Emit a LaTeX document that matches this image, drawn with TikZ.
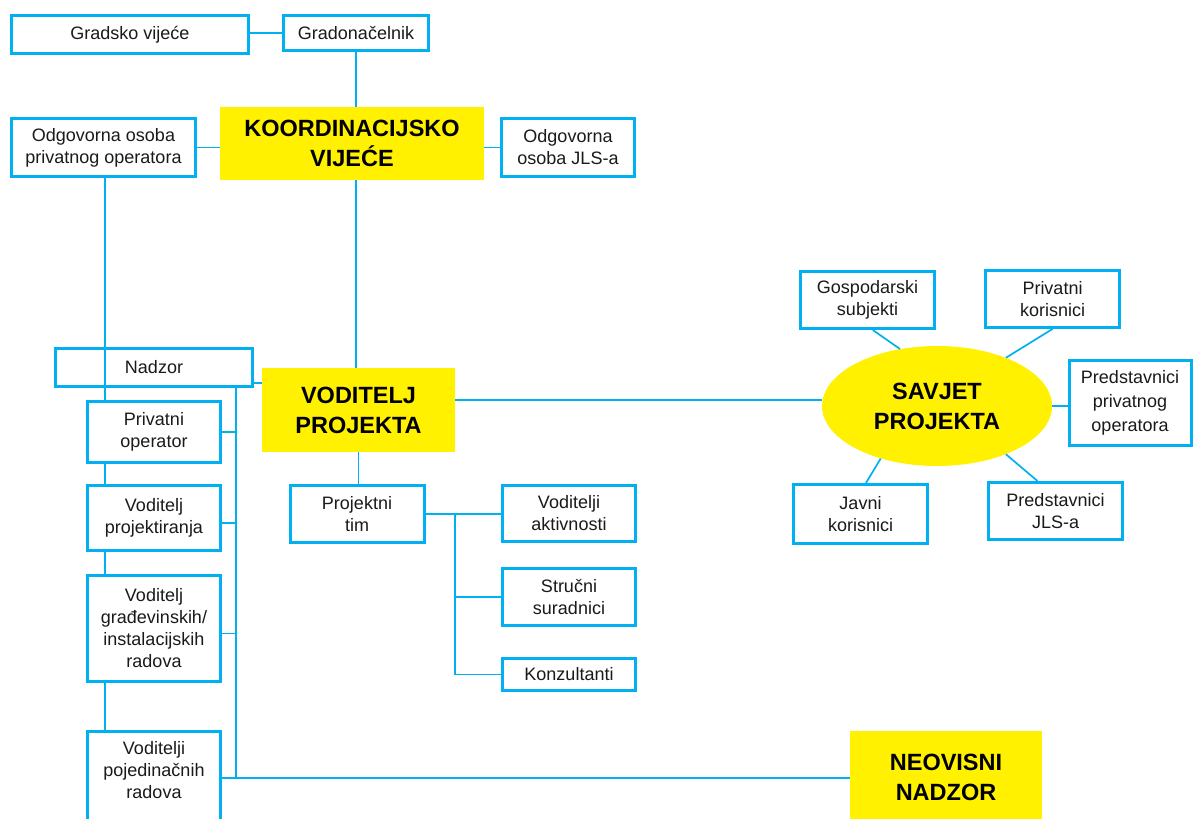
\documentclass[tikz,border=0pt]{standalone}
\usepackage{fontspec}
\setmainfont{Liberation Sans}
\usetikzlibrary{shapes.geometric,calc}
\definecolor{cblue}{HTML}{00B0F0}
\definecolor{cyell}{HTML}{FFF100}
\definecolor{ctext}{HTML}{1A1A1A}
\tikzset{
  box/.style={draw=cblue, line width=3pt, fill=white, inner sep=0pt, align=center,
    text=ctext, font=\fontsize{18}{22}\selectfont},
  txt/.style={inner sep=0pt, align=center, text=ctext, font=\fontsize{18}{22}\selectfont},
  ybox/.style={fill=cyell, inner sep=0pt, align=center, text=black,
    font=\fontsize{23.5}{30}\selectfont\bfseries},
  yell/.style={ellipse, fill=cyell, inner sep=0pt, align=center, text=black,
    font=\fontsize{23.5}{30}\selectfont\bfseries},
  conn/.style={draw=cblue, line width=1.7pt}
}
\begin{document}
\begin{tikzpicture}[x=1pt,y=-1pt]
\clip (0,0) rectangle (1194,819);
\fill[white] (0,0) rectangle (1194,819);
% top
\node[box, minimum width=237, minimum height=38] (gv) at (130,34.5) {Gradsko vijeće};
\node[box, minimum width=145, minimum height=35] (gn) at (356,33) {Gradonačelnik};
\node[ybox, minimum width=264, minimum height=73] (kv) at (352,143.5) {KOORDINACIJSKO\\VIJEĆE};
\node[box, minimum width=184, minimum height=58] (oop) at (103.5,147.5) {Odgovorna osoba\\privatnog operatora};
\node[box, minimum width=133, minimum height=58] (ojls) at (568,147.5) {Odgovorna\\osoba JLS-a};
% left column
\node[box, minimum width=197, minimum height=38] (nad) at (154,367.5) {Nadzor};
\node[ybox, minimum width=193, minimum height=84] (vod) at (358.5,410) {VODITELJ\\PROJEKTA};
\node[box, minimum width=133, minimum height=61] (po) at (154,432) {Privatni\\operator};
\node[box, minimum width=133, minimum height=65] (vpr) at (154,518) {Voditelj\\projektiranja};
\node[box, minimum width=133, minimum height=106] (vgr) at (154,628.5) {Voditelj\\građevinskih/\\instalacijskih\\radova};
\node[box, minimum width=133, minimum height=120, anchor=north] (vpoj) at (154,729.5) {};
\node[txt] (vpojt) at (154,770) {Voditelji\\pojedinačnih\\radova};
% project team
\node[box, minimum width=134, minimum height=57] (tim) at (357,514) {Projektni\\tim};
\node[box, minimum width=133, minimum height=56] (va) at (569,513.5) {Voditelji\\aktivnosti};
\node[box, minimum width=133, minimum height=57] (ss) at (569,597) {Stručni\\suradnici};
\node[box, minimum width=133, minimum height=32] (kon) at (569,674.5) {Konzultanti};
% savjet
\node[yell, minimum width=230, minimum height=120] (sav) at (937,406) {SAVJET\\PROJEKTA};
\node[box, minimum width=134, minimum height=57] (gos) at (867.5,300) {Gospodarski\\subjekti};
\node[box, minimum width=134, minimum height=57] (prk) at (1052.5,299) {Privatni\\korisnici};
\node[box, minimum width=122, minimum height=85, font=\fontsize{18}{24}\selectfont] (pp) at (1130,403) {Predstavnici\\privatnog\\operatora};
\node[box, minimum width=134, minimum height=59] (jav) at (860.5,514) {Javni\\korisnici};
\node[box, minimum width=134, minimum height=57] (jls) at (1055.5,511) {Predstavnici\\JLS-a};
\node[ybox, minimum width=192, minimum height=92] (neo) at (946,777) {NEOVISNI\\NADZOR};
% helper coordinates
\coordinate (lx) at (105,0);
\coordinate (rx) at (236,0);
\coordinate (tj) at (455,0);
\coordinate (nj) at (236,778);
% connectors
\draw[conn] (gn.west -| gv.east) -- (gn.west);
\draw[conn] (gn.south) -- (kv.north -| gn.south);
\draw[conn] (oop.east) -- (oop.east -| kv.west);
\draw[conn] (ojls.west -| kv.east) -- (ojls.west);
\draw[conn] (kv.south -| gn.south) -- (vod.north -| gn.south);
\draw[conn] (oop.south -| lx) -- (po.north -| lx);
\draw[conn] (po.south -| lx) -- (vpr.north -| lx);
\draw[conn] (vpr.south -| lx) -- (vgr.north -| lx);
\draw[conn] (vgr.south -| lx) -- (vpoj.north -| lx);
\draw[conn] (nad.south -| rx) -- (nj);
\draw[conn] (vpoj.east |- nj) -- (neo.west |- nj);
\draw[conn] (po.east) -- (po.east -| rx);
\draw[conn] ($(vpr.east)+(0,5)$) coordinate (t2) -- (t2 -| rx);
\draw[conn] ($(vgr.east)+(0,5)$) coordinate (t3) -- (t3 -| rx);
\draw[conn] ($(nad.east)+(0,15.5)$) coordinate (nv) -- (nv -| vod.west);
\draw[conn] (vod.south) -- (vod.south |- tim.north);
\draw[conn] (tim.east) -- (tim.east -| va.west);
\draw[conn] (tim.east -| tj) -- (kon.west -| tj);
\draw[conn] (ss.west -| tj) -- (ss.west);
\draw[conn] (kon.west -| tj) -- (kon.west);
\draw[conn] ($(vod.east)+(0,-10)$) coordinate (vs) -- (vs -| sav.west);
\draw[conn] (gos.-80) -- (sav.123);
\draw[conn] (prk.south) -- (sav.35);
\draw[conn] (sav.east) -- (sav.east -| pp.west);
\draw[conn] (jav.80) -- (sav.223);
\draw[conn] (jls.121) -- (sav.-35);
\end{tikzpicture}
\end{document}
